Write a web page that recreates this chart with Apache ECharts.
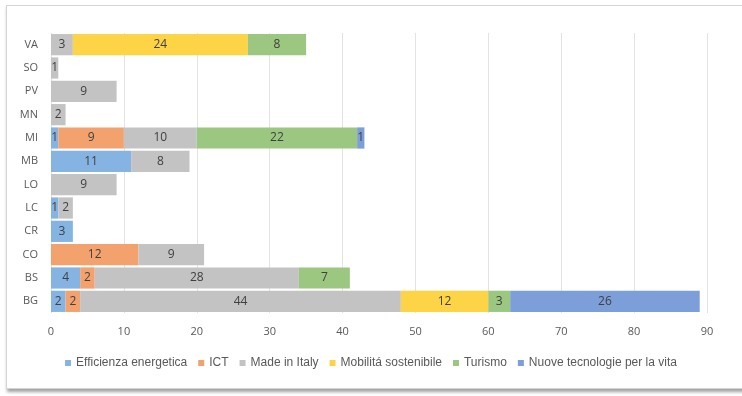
<!DOCTYPE html>
<html>
<head>
<meta charset="utf-8">
<script src="https://cdn.jsdelivr.net/npm/echarts@6/dist/echarts.min.js"></script>
<style>
  html, body { margin: 0; padding: 0; background: #ffffff; }
  #wrap { position: relative; width: 742px; height: 396px; overflow: hidden; background: #ffffff; }
  #card {
    position: absolute; left: 6px; top: 5px; width: 780px; height: 382px;
    border: 1px solid #d4d4d4; background: #ffffff;
    box-shadow: 1px 3px 3px rgba(90,90,90,0.55);
  }
  #chart { position: absolute; left: 0; top: 0; width: 742px; height: 396px; }
</style>
</head>
<body>
<div id="wrap">
  <div id="card"></div>
  <div id="chart"></div>
</div>
<script>
// Province (bottom to top, as listed on the category axis)
const provinces = ['BG', 'BS', 'CO', 'CR', 'LC', 'LO', 'MB', 'MI', 'MN', 'PV', 'SO', 'VA'];

// Number of projects per thematic area, one value per province (null = none)
const efficienzaEnergetica = [2, 4, null, 3, 1, null, 11, 1, null, null, null, null];
const ict                  = [2, 2, 12, null, null, null, null, 9, null, null, null, null];
const madeInItaly          = [44, 28, 9, null, 2, 9, 8, 10, 2, 9, 1, 3];
const mobilitaSostenibile  = [12, null, null, null, null, null, null, null, null, null, null, 24];
const turismo              = [3, 7, null, null, null, null, null, 22, null, null, null, 8];
const nuoveTecnologie      = [26, null, null, null, null, null, null, 1, null, null, null, null];

const xTicks = [0, 10, 20, 30, 40, 50, 60, 70, 80, 90];

const seriesDefs = [
  { name: 'Efficienza energetica', data: efficienzaEnergetica, color: '#86b4e2' },
  { name: 'ICT', data: ict, color: '#f3a26e' },
  { name: 'Made in Italy', data: madeInItaly, color: '#c3c3c3' },
  { name: 'Mobilitá sostenibile', data: mobilitaSostenibile, color: '#fdd446' },
  { name: 'Turismo', data: turismo, color: '#9bc780' },
  { name: 'Nuove tecnologie per la vita', data: nuoveTecnologie, color: '#7c9ed9' }
];

const chart = echarts.init(document.getElementById('chart'), null, { renderer: 'canvas' });

chart.setOption({
  animation: false,
  textStyle: { fontFamily: '"Open Sans", "Liberation Sans", sans-serif' },
  grid: { left: 51, right: 35, top: 33, bottom: 83, containLabel: false },
  legend: {
    bottom: 22,
    left: 'center',
    itemWidth: 6,
    itemHeight: 6,
    itemGap: 11,
    icon: 'rect',
    textStyle: { color: '#595959', fontSize: 12, fontFamily: '"Liberation Sans", sans-serif' },
    data: seriesDefs.map(s => s.name)
  },
  xAxis: {
    type: 'value',
    min: xTicks[0],
    max: xTicks[xTicks.length - 1],
    interval: 10,
    axisLine: { show: false },
    axisTick: { show: false },
    splitLine: { show: true, lineStyle: { color: '#e3e3e3', width: 1 } },
    axisLabel: { color: '#595959', fontSize: 11, margin: 13 }
  },
  yAxis: {
    type: 'category',
    data: provinces,
    axisLine: { show: false },
    axisTick: { show: false },
    axisLabel: { color: '#595959', fontSize: 11, margin: 13 }
  },
  series: seriesDefs.map(s => ({
    name: s.name,
    type: 'bar',
    stack: 'totale',
    data: s.data,
    barCategoryGap: '9%',
    itemStyle: { color: s.color },
    label: {
      show: true,
      position: 'inside',
      color: '#404040',
      fontSize: 12,
      formatter: p => (p.value == null ? '' : p.value)
    }
  }))
});
</script>
</body>
</html>
